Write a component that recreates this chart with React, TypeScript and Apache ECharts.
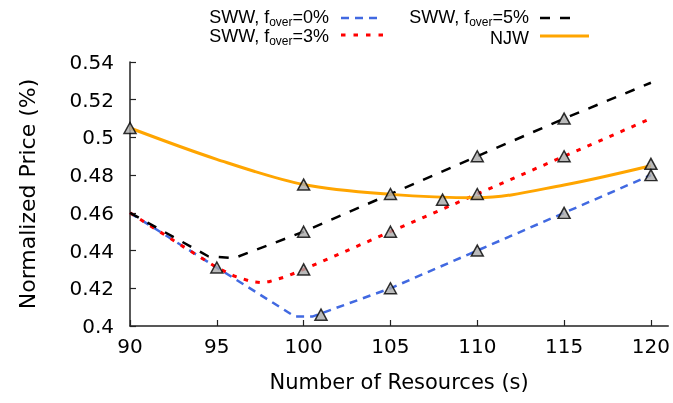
import React, { useEffect, useRef } from 'react';
import * as echarts from 'echarts';

const xTicks = [90, 95, 100, 105, 110, 115, 120];

const sww0: [number, number][] = [
  [90, 0.46], [95, 0.431], [99.5, 0.405], [100.5, 0.405], [105, 0.42],
  [110, 0.44], [115, 0.46], [120, 0.48],
];
const sww3: [number, number][] = [
  [90, 0.46], [93, 0.4425], [95, 0.431], [96, 0.4265], [97, 0.4235], [97.5, 0.423],
  [98, 0.4235], [99, 0.4262], [100, 0.43], [105, 0.45], [110, 0.47], [115, 0.49], [120, 0.51],
];
const sww5: [number, number][] = [
  [90, 0.46], [94.5, 0.437], [96, 0.436], [100, 0.45], [105, 0.47],
  [110, 0.49], [115, 0.51], [120, 0.529],
];
const njw: [number, number][] = [
  [90, 0.505], [95, 0.4884], [100, 0.475], [105, 0.4698],
  [110, 0.468], [115, 0.4748], [120, 0.485],
];
const markers: [number, number][] = [
  [90, 0.505], [95, 0.431], [100, 0.475], [100, 0.45], [100, 0.43], [101, 0.406],
  [105, 0.47], [105, 0.45], [105, 0.42], [108, 0.467], [110, 0.49], [110, 0.47],
  [110, 0.44], [115, 0.51], [115, 0.49], [115, 0.46], [120, 0.486], [120, 0.48],
];

const FONT = 'Liberation Sans, Arial, Helvetica, sans-serif';
const AXFONT = 'DejaVu Sans, sans-serif';
const BLUE = '#4169e1';
const RED = '#ff0000';
const BLACK = '#000000';
const ORANGE = '#ffa500';

export default function App() {
  const ref = useRef<HTMLDivElement>(null);
  useEffect(() => {
    const chart = echarts.init(ref.current!, null, { renderer: 'svg' });
    const rich = {
      a: { fontSize: 18, fontFamily: FONT, color: '#000', lineHeight: 16 },
      sub: { fontSize: 12, fontFamily: FONT, color: '#000', lineHeight: 9, padding: [9, 0, 0, 0] },
    };
    const legendText = (x: number, y: number, label: string) => ({
      type: 'text',
      x,
      y,
      style: {
        text: label,
        rich,
        align: 'right',
        verticalAlign: 'middle',
        fontFamily: FONT,
        fontSize: 18,
        fill: '#000',
      },
    });
    const legendLine = (x1: number, x2: number, y: number, color: string, dash: number[] | null, w: number) => ({
      type: 'line',
      shape: { x1, y1: y, x2, y2: y },
      style: { stroke: color, lineWidth: w, lineDash: dash || undefined },
    });
    chart.setOption({
      animation: false,
      grid: { left: 130, right: 3, top: 62, bottom: 77 },
      xAxis: {
        type: 'value',
        min: 90,
        max: 121,
        name: 'Number of Resources (s)',
        nameLocation: 'middle',
        nameGap: 45,
        nameTextStyle: { fontSize: 21, fontFamily: AXFONT, color: '#000' },
        axisLine: { lineStyle: { color: '#222', width: 1.5 } },
        axisTick: { inside: true, length: 6, customValues: xTicks, lineStyle: { color: '#222', width: 1.2 } },
        axisLabel: { customValues: xTicks, fontSize: 20, fontFamily: AXFONT, color: '#000', margin: 10 },
        splitLine: { show: false },
      },
      yAxis: {
        type: 'value',
        min: 0.4,
        max: 0.54,
        interval: 0.02,
        name: 'Normalized Price (%)',
        nameLocation: 'middle',
        nameGap: 92,
        nameTextStyle: { fontSize: 22, fontFamily: AXFONT, color: '#000' },
        axisLine: { show: true, lineStyle: { color: '#222', width: 1.5 } },
        axisTick: { show: true, inside: true, length: 6, lineStyle: { color: '#222', width: 1.2 } },
        axisLabel: {
          fontSize: 20,
          fontFamily: AXFONT,
          color: '#000',
          margin: 16,
          formatter: (v: number) => String(+v.toFixed(2)),
        },
        splitLine: { show: false },
      },
      series: [
        {
          type: 'line', name: 'SWW, f_over=0%', data: sww0, symbol: 'none',
          lineStyle: { color: BLUE, width: 2.5, type: [8, 6] },
        },
        {
          type: 'line', name: 'SWW, f_over=3%', data: sww3, symbol: 'none',
          lineStyle: { color: RED, width: 3, type: [4.5, 7.5] },
        },
        {
          type: 'line', name: 'SWW, f_over=5%', data: sww5, symbol: 'none',
          lineStyle: { color: BLACK, width: 2.5, type: [10, 10] },
        },
        {
          type: 'line', name: 'NJW', data: njw, symbol: 'none', smooth: 0.33,
          lineStyle: { color: ORANGE, width: 3 },
        },
        {
          type: 'scatter', name: 'markers', data: markers, symbol: 'triangle', symbolSize: [12, 11],
          itemStyle: { color: '#a9a9a9', borderColor: '#000', borderWidth: 1.5 },
          z: 5,
        },
      ],
      graphic: [
        legendText(329, 17, '{a|SWW, f}{sub|over}{a|=0%}'),
        legendText(329, 36, '{a|SWW, f}{sub|over}{a|=3%}'),
        legendText(529, 17, '{a|SWW, f}{sub|over}{a|=5%}'),
        legendText(529, 38, '{a|NJW}'),
        legendLine(341, 378, 18, BLUE, [8, 6], 2.5),
        legendLine(341, 383, 35, RED, [4.5, 8], 3),
        legendLine(540, 570, 18, BLACK, [10, 10], 2.5),
        legendLine(540, 589, 36, ORANGE, null, 3),
      ],
    });
    return () => chart.dispose();
  }, []);
  return <div ref={ref} style={{ position: 'fixed', left: 0, top: 0, width: 673, height: 403 }} />;
}
